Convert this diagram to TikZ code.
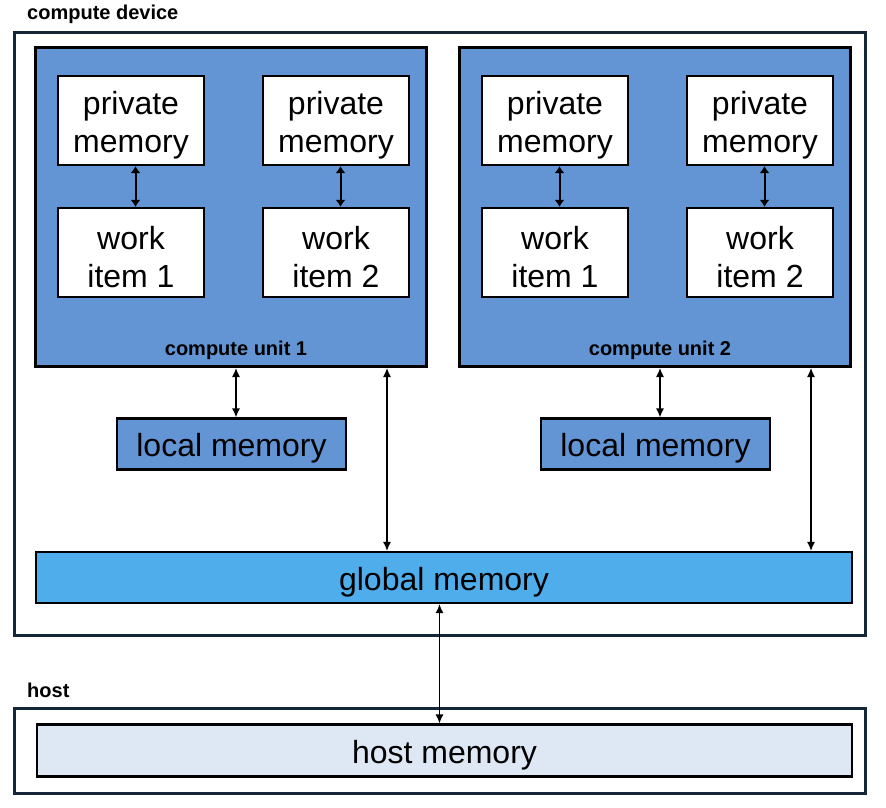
\documentclass[tikz,border=0pt]{standalone}
\usepackage{fontspec}
\setmainfont{Liberation Sans}
\usetikzlibrary{arrows.meta,calc}
\definecolor{cufill}{RGB}{99,149,212}
\definecolor{gmfill}{RGB}{78,173,234}
\definecolor{hmfill}{RGB}{222,232,245}
\definecolor{navy}{RGB}{20,38,56}
\begin{document}
\begin{tikzpicture}[x=1pt,y=-1pt,
  frame/.style={draw=navy,line width=3pt,inner sep=0pt},
  unitbox/.style={draw=black,line width=3pt,fill=cufill,inner sep=0pt,minimum width=391pt,minimum height=319pt},
  membox/.style={draw=black,line width=2.2pt,inner sep=0pt,font=\fontsize{32}{38}\selectfont,align=center},
  onebox/.style={membox,execute at begin node={\rule{0pt}{32pt}}},
  whitebox/.style={membox,fill=white,minimum width=146pt,minimum height=89pt},
  wtext/.style={font=\fontsize{32}{38}\selectfont,align=center,inner sep=0pt,yshift=-5pt},
  localbox/.style={onebox,fill=cufill,minimum width=229pt,minimum height=51pt},
  tag/.style={font=\bfseries\fontsize{20}{24}\selectfont,inner sep=0pt},
  arr/.style={{Latex[length=9pt,width=8pt]}-{Latex[length=9pt,width=8pt]},line width=1.3pt},
  parr/.style={{Latex[length=7pt,width=10pt]}-{Latex[length=7pt,width=10pt]},line width=2pt}]
\useasboundingbox (0,0) rectangle (886,808);
% compute device frame
\node[frame,minimum width=851pt,minimum height=603pt] (dev) at (440,334) {};
\node[tag,anchor=base west] (devlabel) at (27,20) {compute device};
% compute units
\node[unitbox] (cu1) at (231,207) {};
\node[unitbox] (cu2) at (655,207) {};
\node[tag,anchor=base] (cu1label) at (236,355) {compute unit 1};
\node[tag,anchor=base] (cu2label) at (660,355) {compute unit 2};
% private memories and work items
\node[whitebox,label={[wtext]center:private\\memory}] (pm11) at (131,120.5) {};
\node[whitebox,label={[wtext]center:private\\memory}] (pm12) at (336,120.5) {};
\node[whitebox,label={[wtext]center:work\\item 1}] (wi11) at (131,252.5) {};
\node[whitebox,label={[wtext]center:work\\item 2}] (wi12) at (336,252.5) {};
\node[whitebox,label={[wtext]center:private\\memory}] (pm21) at (555,120.5) {};
\node[whitebox,label={[wtext]center:private\\memory}] (pm22) at (760,120.5) {};
\node[whitebox,label={[wtext]center:work\\item 1}] (wi21) at (555,252.5) {};
\node[whitebox,label={[wtext]center:work\\item 2}] (wi22) at (760,252.5) {};
\foreach \p/\w in {pm11/wi11,pm12/wi12,pm21/wi21,pm22/wi22}
  \draw[parr] ([xshift=4.5pt]\p.south) -- ([xshift=4.5pt]\w.north);
% local memories
\node[localbox] (lm1) at (231.5,444) {local memory};
\node[localbox] (lm2) at (655.5,444) {local memory};
\draw[arr] ([xshift=4.5pt]lm1.north |- cu1.south) -- ([xshift=4.5pt]lm1.north);
\draw[arr] ([xshift=4.5pt]lm2.north |- cu2.south) -- ([xshift=4.5pt]lm2.north);
% global memory
\node[onebox,fill=gmfill,minimum width=816pt,minimum height=51pt] (gm) at (444,577.5) {global memory};
\draw[arr] ([xshift=-41pt]cu1.south east) -- ([xshift=-41pt]cu1.south east |- gm.north);
\draw[arr] ([xshift=-41pt]cu2.south east) -- ([xshift=-41pt]cu2.south east |- gm.north);
% host
\node[frame,minimum width=851pt,minimum height=85pt] (host) at (440,751) {};
\node[tag,anchor=base west] (hostlabel) at (27,697) {host};
\node[onebox,fill=hmfill,minimum width=815pt,minimum height=52pt] (hm) at (444.5,750.5) {host memory};
\draw[arr] ([xshift=-4.5pt]gm.south) -- ([xshift=-4.5pt]gm.south |- hm.north);
\end{tikzpicture}
\end{document}
